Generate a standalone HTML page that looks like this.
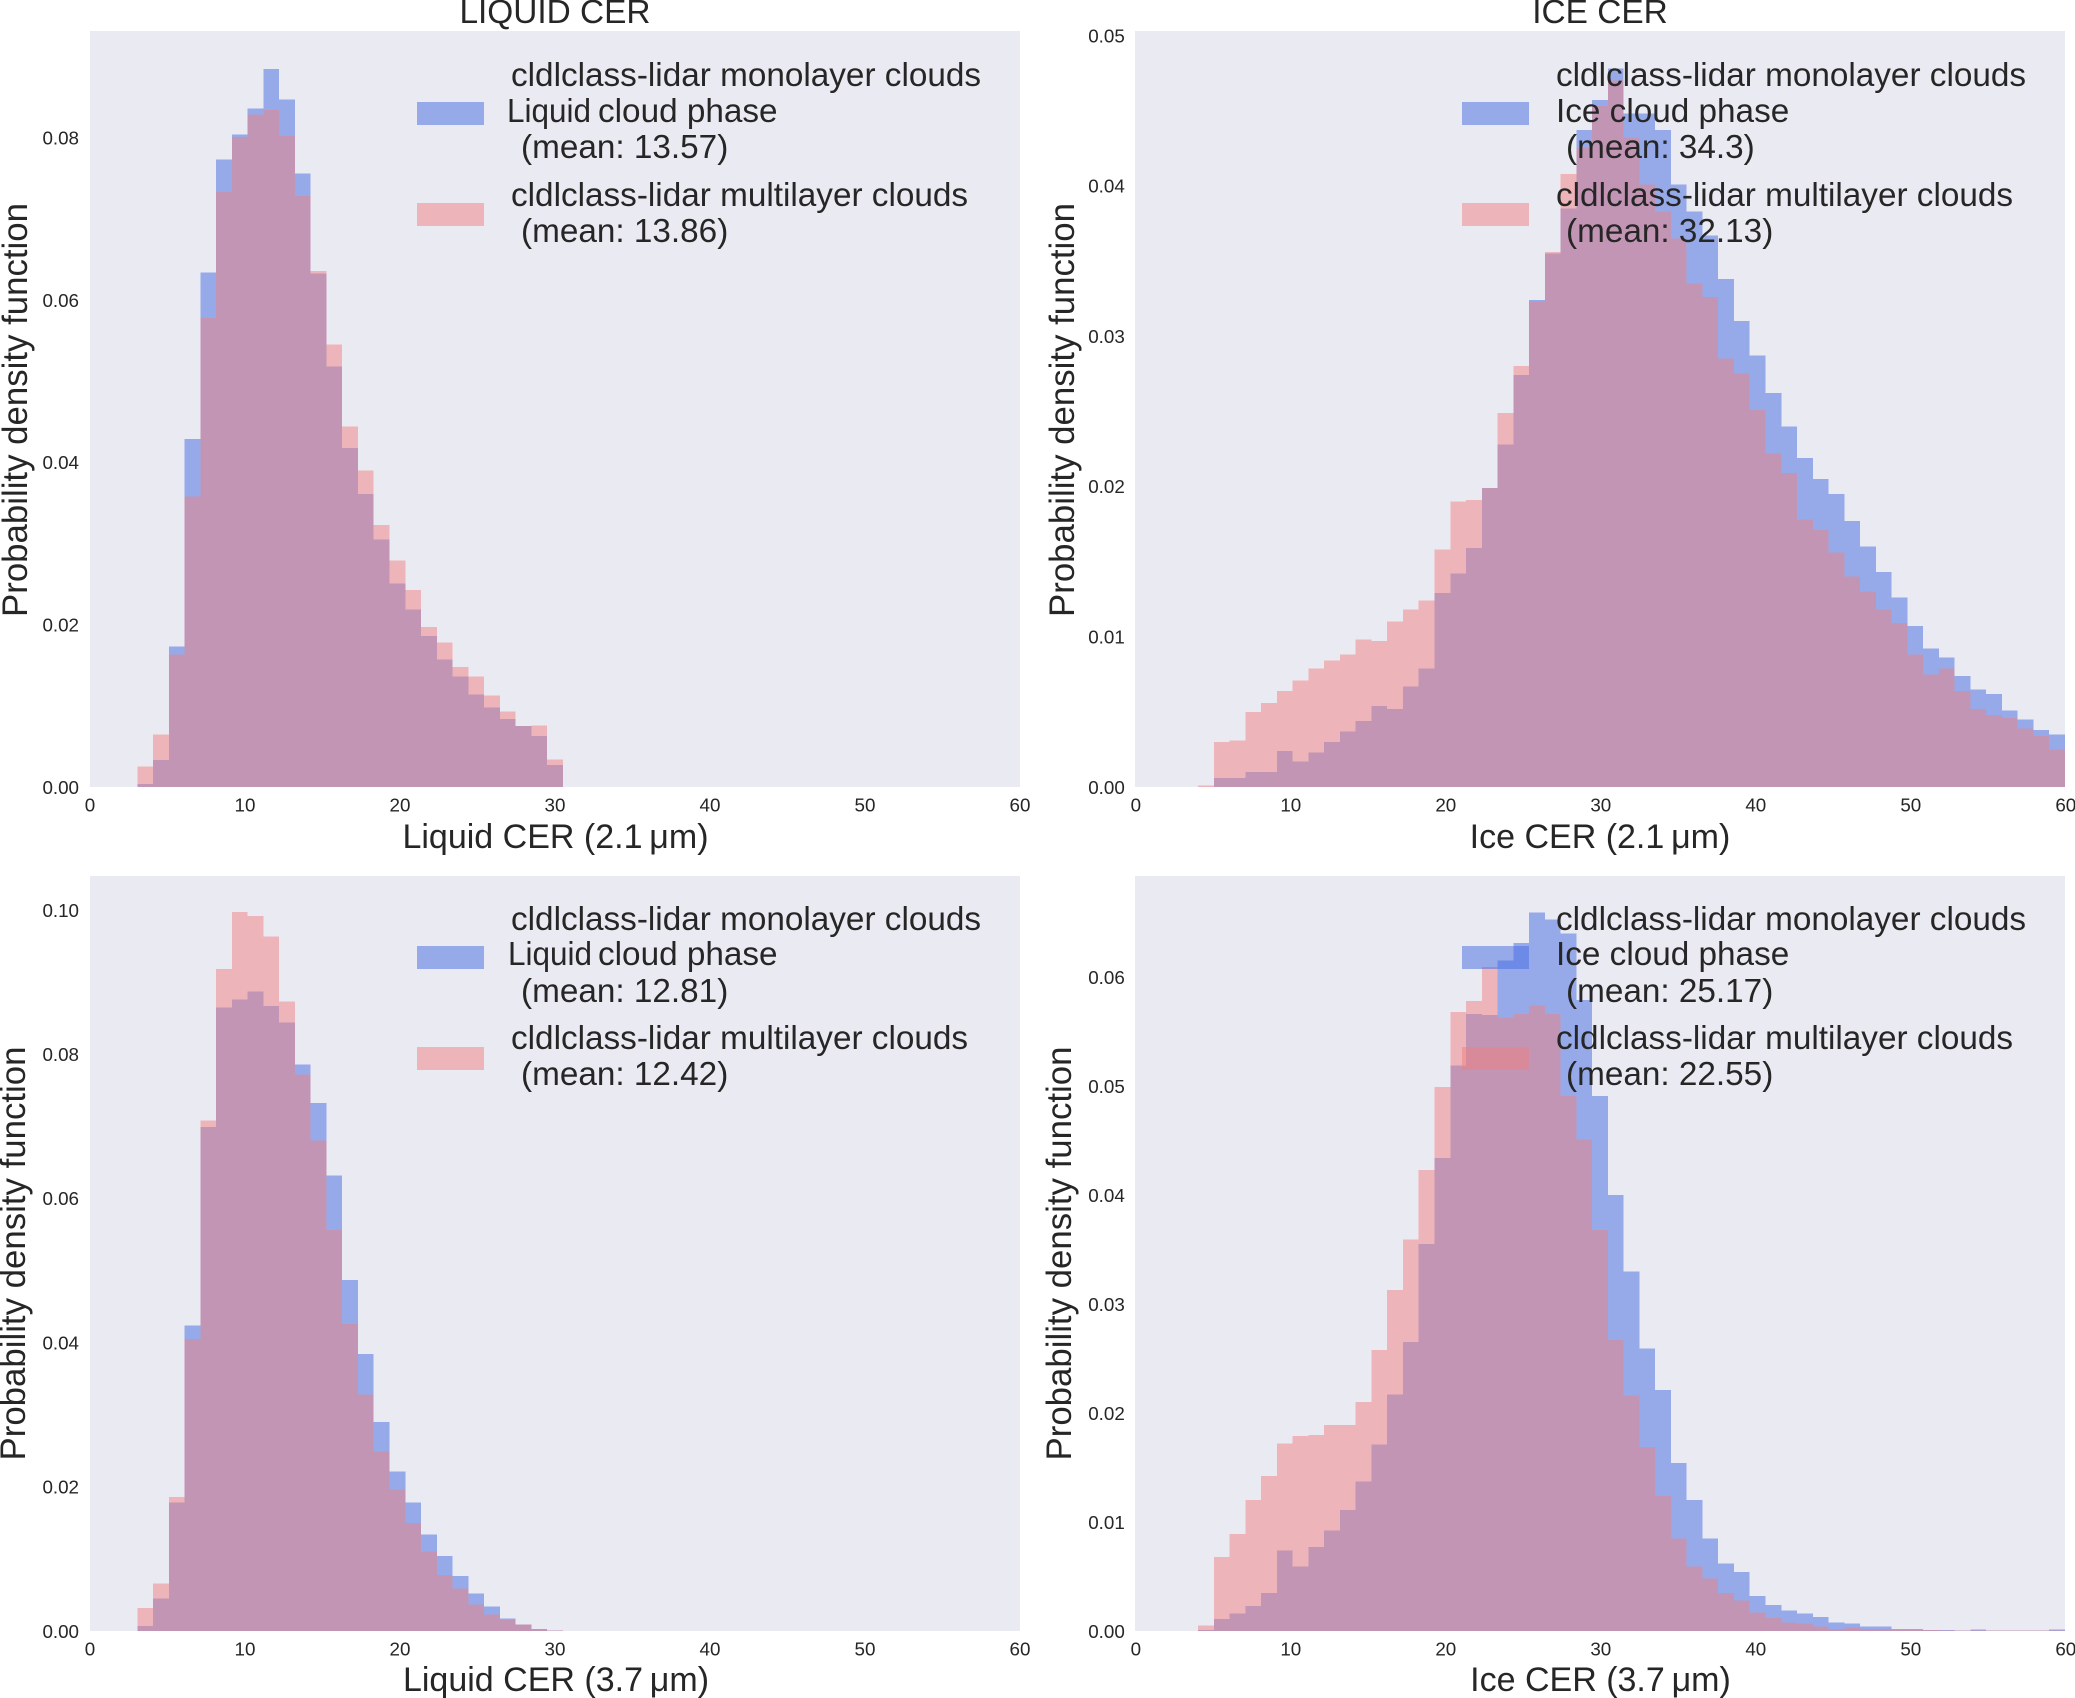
<!DOCTYPE html>
<html lang="en">
<head>
<meta charset="utf-8">
<title>Cloud effective radius histograms</title>
<style>
html,body{margin:0;padding:0;background:#fff;}
svg{display:block;}
text{font-family:"Liberation Sans",Arial,sans-serif;fill:#262626;}
.title{font-size:33.4px;}
.legend{font-size:33.3px;}
.xlabel{font-size:34px;}
.ylabel{font-size:34.8px;}
.tick{font-size:18.8px;}
.patch{shape-rendering:crispEdges;}
</style>
</head>
<body>
<svg id="figure" xmlns="http://www.w3.org/2000/svg" width="2075" height="1698" viewBox="0 0 2075 1698">
  <rect width="2075" height="1698" fill="#ffffff"/>

  <!-- top-left panel -->
  <g id="panel-liquid21">
    <rect x="90" y="31" width="930" height="756" fill="#EAEAF2"/>
    <g id="marks-liquid21"></g>
    <g id="ticks-liquid21"></g>
    <text class="title" x="555" y="23" text-anchor="middle">LIQUID CER</text>
    <text class="xlabel" x="555.5" y="848" text-anchor="middle">Liquid CER (2.1&#8201;μm)</text>
    <text class="ylabel" transform="translate(27,410) rotate(-90)" text-anchor="middle">Probability density function</text>
    <g>
      <rect class="patch" x="417" y="102" width="67" height="23" fill="#4169E1" fill-opacity="0.5"/>
      <rect class="patch" x="417" y="203" width="67" height="23" fill="#F08080" fill-opacity="0.5"/>
      <text class="legend"><tspan x="511" y="86">cldlclass-lidar monolayer clouds</tspan><tspan x="507" y="122" textLength="84" lengthAdjust="spacingAndGlyphs">Liquid</tspan><tspan x="598" y="122">cloud phase</tspan><tspan x="521" y="158">(mean: 13.57)</tspan></text>
      <text class="legend"><tspan x="511" y="206">cldlclass-lidar multilayer clouds</tspan><tspan x="521" y="242">(mean: 13.86)</tspan></text>
    </g>
  </g>

  <!-- top-right panel -->
  <g id="panel-ice21">
    <rect x="1135" y="31" width="930" height="756" fill="#EAEAF2"/>
    <g id="marks-ice21"></g>
    <g id="ticks-ice21"></g>
    <text class="title" x="1600" y="23" text-anchor="middle">ICE CER</text>
    <text class="xlabel" x="1600" y="848" text-anchor="middle">Ice CER (2.1&#8201;μm)</text>
    <text class="ylabel" transform="translate(1074,410) rotate(-90)" text-anchor="middle">Probability density function</text>
    <g>
      <rect class="patch" x="1462" y="102" width="67" height="23" fill="#4169E1" fill-opacity="0.5"/>
      <rect class="patch" x="1462" y="203" width="67" height="23" fill="#F08080" fill-opacity="0.5"/>
      <text class="legend"><tspan x="1556" y="86">cldlclass-lidar monolayer clouds</tspan><tspan x="1556" y="122">Ice cloud phase</tspan><tspan x="1566" y="158">(mean: 34.3)</tspan></text>
      <text class="legend"><tspan x="1556" y="206">cldlclass-lidar multilayer clouds</tspan><tspan x="1566" y="242">(mean: 32.13)</tspan></text>
    </g>
  </g>

  <!-- bottom-left panel -->
  <g id="panel-liquid37">
    <rect x="90" y="876" width="930" height="755" fill="#EAEAF2"/>
    <g id="marks-liquid37"></g>
    <g id="ticks-liquid37"></g>
    <text class="xlabel" x="556" y="1691" text-anchor="middle">Liquid CER (3.7&#8201;μm)</text>
    <text class="ylabel" transform="translate(25,1253.5) rotate(-90)" text-anchor="middle">Probability density function</text>
    <g>
      <rect class="patch" x="417" y="946" width="67" height="23" fill="#4169E1" fill-opacity="0.5"/>
      <rect class="patch" x="417" y="1047" width="67" height="23" fill="#F08080" fill-opacity="0.5"/>
      <text class="legend"><tspan x="511" y="930">cldlclass-lidar monolayer clouds</tspan><tspan x="508" y="965" textLength="84" lengthAdjust="spacingAndGlyphs">Liquid</tspan><tspan x="598" y="965">cloud phase</tspan><tspan x="521" y="1002">(mean: 12.81)</tspan></text>
      <text class="legend"><tspan x="511" y="1049">cldlclass-lidar multilayer clouds</tspan><tspan x="521" y="1085">(mean: 12.42)</tspan></text>
    </g>
  </g>

  <!-- bottom-right panel -->
  <g id="panel-ice37">
    <rect x="1135" y="876" width="930" height="755" fill="#EAEAF2"/>
    <g id="marks-ice37"></g>
    <g id="ticks-ice37"></g>
    <text class="xlabel" x="1600.5" y="1691" text-anchor="middle">Ice CER (3.7&#8201;μm)</text>
    <text class="ylabel" transform="translate(1071,1253.5) rotate(-90)" text-anchor="middle">Probability density function</text>
    <g>
      <rect class="patch" x="1462" y="946" width="67" height="23" fill="#4169E1" fill-opacity="0.5"/>
      <rect class="patch" x="1462" y="1047" width="67" height="23" fill="#F08080" fill-opacity="0.5"/>
      <text class="legend"><tspan x="1556" y="930">cldlclass-lidar monolayer clouds</tspan><tspan x="1556" y="965">Ice cloud phase</tspan><tspan x="1566" y="1002">(mean: 25.17)</tspan></text>
      <text class="legend"><tspan x="1556" y="1049">cldlclass-lidar multilayer clouds</tspan><tspan x="1566" y="1085">(mean: 22.55)</tspan></text>
    </g>
  </g>
</svg>

<script>
// Shared histogram bins and tick labels
const xDomainMax = 60;
const binCount = 59;
const xTickLabels = [0, 10, 20, 30, 40, 50, 60];

// Liquid CER 2.1 um (first bin index 3)
const liquid21FirstBin = 3;
const liquid21Mono = [0.0004,0.0033,0.0173,0.0429,0.0634,0.0773,0.0804,0.0836,0.0885,0.0847,0.0756,0.0633,0.0518,0.0418,0.0361,0.0305,0.0251,0.0219,0.0186,0.0157,0.0136,0.0114,0.0098,0.0084,0.0075,0.0063,0.0027];
const liquid21Multi = [0.0025,0.0065,0.0163,0.0358,0.0578,0.0733,0.0801,0.0829,0.0834,0.0802,0.0728,0.0636,0.0545,0.0444,0.0390,0.0323,0.0279,0.0243,0.0197,0.0178,0.0148,0.0136,0.0113,0.0093,0.0075,0.0076,0.0034];
const liquid21YTicks = ["0.00","0.02","0.04","0.06","0.08"];
const liquid21YMax = 0.09316;

// Ice CER 2.1 um (first bin index 4)
const ice21FirstBin = 4;
const ice21Mono = [0,0.0006,0.0006,0.0010,0.0010,0.0024,0.0017,0.0023,0.0030,0.0037,0.0044,0.0054,0.0052,0.0067,0.0079,0.0129,0.0142,0.0159,0.0199,0.0228,0.0274,0.0324,0.0355,0.0385,0.0437,0.0457,0.0478,0.0448,0.0448,0.0437,0.0401,0.0383,0.0367,0.0338,0.0310,0.0287,0.0262,0.0240,0.0219,0.0205,0.0195,0.0177,0.0160,0.0143,0.0126,0.0107,0.0092,0.0086,0.0074,0.0065,0.0062,0.0051,0.0045,0.0038,0.0035];
const ice21Multi = [0.0001,0.0030,0.0031,0.0050,0.0056,0.0064,0.0071,0.0079,0.0084,0.0088,0.0098,0.0097,0.0110,0.0118,0.0124,0.0158,0.0190,0.0191,0.0199,0.0249,0.0280,0.0323,0.0356,0.0408,0.0425,0.0453,0.0470,0.0432,0.0401,0.0383,0.0365,0.0335,0.0326,0.0285,0.0275,0.0251,0.0222,0.0209,0.0178,0.0171,0.0156,0.0140,0.0130,0.0118,0.0109,0.0088,0.0075,0.0079,0.0064,0.0052,0.0048,0.0046,0.0039,0.0034,0.0025];
const ice21YTicks = ["0.00","0.01","0.02","0.03","0.04","0.05"];
const ice21YMax = 0.0503;

// Liquid CER 3.7 um (first bin index 3)
const liquid37FirstBin = 3;
const liquid37Mono = [0.0007,0.0045,0.0178,0.0424,0.0699,0.0865,0.0876,0.0887,0.0867,0.0844,0.0786,0.0732,0.0632,0.0487,0.0384,0.0290,0.0221,0.0178,0.0134,0.0104,0.0076,0.0052,0.0034,0.0017,0.0009,0.0003,0.0001];
const liquid37Multi = [0.0032,0.0066,0.0186,0.0405,0.0708,0.0918,0.0997,0.0992,0.0963,0.0873,0.0772,0.0680,0.0556,0.0426,0.0328,0.0249,0.0196,0.0150,0.0110,0.0078,0.0059,0.0037,0.0023,0.0015,0.0009,0.0003,0.0001];
const liquid37YTicks = ["0.00","0.02","0.04","0.06","0.08","0.10"];
const liquid37YMax = 0.10472;

// Ice CER 3.7 um (first bin index 4)
const ice37FirstBin = 4;
const ice37Mono = [0.0001,0.0011,0.0016,0.0023,0.0035,0.0074,0.0059,0.0077,0.0092,0.0111,0.0137,0.0171,0.0217,0.0265,0.0355,0.0434,0.0519,0.0566,0.0565,0.0615,0.0631,0.0659,0.0653,0.0640,0.0579,0.0491,0.0400,0.0330,0.0259,0.0221,0.0154,0.0120,0.0085,0.0062,0.0054,0.0032,0.0024,0.0019,0.0016,0.0013,0.0008,0.0007,0.0004,0.0004,0.0002,0.0002,0.0001,0.0001,0.00005,0.00015,0.00005,0.00005,0.00005,0.00005,0.00015];
const ice37Multi = [0.0005,0.0068,0.0089,0.0120,0.0142,0.0172,0.0179,0.0180,0.0189,0.0189,0.0210,0.0258,0.0313,0.0359,0.0423,0.0499,0.0568,0.0578,0.0609,0.0563,0.0566,0.0574,0.0566,0.0491,0.0451,0.0368,0.0267,0.0216,0.0169,0.0124,0.0085,0.0059,0.0048,0.0035,0.0028,0.0017,0.0012,0.0008,0.0007,0.0004,0.0002,0.0003,0.0002,0.0002,0.0001,0.0001,0.0001,0.00005,0.00005,0.00004,0.00004,0.00004,0.00004,0.00004,0.00005];
const ice37YTicks = ["0.00","0.01","0.02","0.03","0.04","0.05","0.06"];
const ice37YMax = 0.06927;

const SVG_NS = "http://www.w3.org/2000/svg";

function drawSeries(parent, values, firstBin, xScale, yScale, base, color, seriesName) {
  const binWidth = xDomainMax / binCount;
  values.forEach(function (value, i) {
    const x0 = xScale((firstBin + i) * binWidth);
    const x1 = xScale((firstBin + i + 1) * binWidth);
    const top = yScale(value);
    const bar = document.createElementNS(SVG_NS, "rect");
    
    
    bar.setAttribute("x", x0);
    bar.setAttribute("y", top);
    bar.setAttribute("width", x1 - x0);
    bar.setAttribute("height", base - top);
    bar.setAttribute("fill", color);
    bar.setAttribute("fill-opacity", "0.5");
    bar.setAttribute("shape-rendering", "crispEdges");
    parent.appendChild(bar);
  });
}

function drawPanel(key, mono, multi, firstBin, yTicks, yMax, left, top, width, height, labelShift) {
  const base = top + height;
  const xScale = function (v) { return left + v / xDomainMax * width; };
  const yScale = function (v) { return base - v / yMax * height; };
  const marks = document.getElementById("marks-" + key);
  const ticks = document.getElementById("ticks-" + key);

  drawSeries(marks, mono, firstBin, xScale, yScale, base, "#4169E1", "monolayer");
  drawSeries(marks, multi, firstBin, xScale, yScale, base, "#F08080", "multilayer");

  xTickLabels.forEach(function (label) {
    const t = document.createElementNS(SVG_NS, "text");
    
    
    t.setAttribute("class", "tick");
    t.setAttribute("x", xScale(label) + labelShift);
    t.setAttribute("y", base + 24.5);
    t.setAttribute("text-anchor", "middle");
    t.textContent = String(label);
    ticks.appendChild(t);
  });

  yTicks.forEach(function (label) {
    const t = document.createElementNS(SVG_NS, "text");
    
    
    t.setAttribute("class", "tick");
    t.setAttribute("x", left - 11 + labelShift);
    t.setAttribute("y", yScale(parseFloat(label)) + 6.8);
    t.setAttribute("text-anchor", "end");
    t.textContent = label;
    ticks.appendChild(t);
  });
}

drawPanel("liquid21", liquid21Mono, liquid21Multi, liquid21FirstBin, liquid21YTicks, liquid21YMax, 90, 31, 930, 756, 0);
drawPanel("ice21", ice21Mono, ice21Multi, ice21FirstBin, ice21YTicks, ice21YMax, 1135, 31, 930, 756, 0.8);
drawPanel("liquid37", liquid37Mono, liquid37Multi, liquid37FirstBin, liquid37YTicks, liquid37YMax, 90, 876, 930, 755, 0);
drawPanel("ice37", ice37Mono, ice37Multi, ice37FirstBin, ice37YTicks, ice37YMax, 1135, 876, 930, 755, 0.8);
</script>
</body>
</html>
